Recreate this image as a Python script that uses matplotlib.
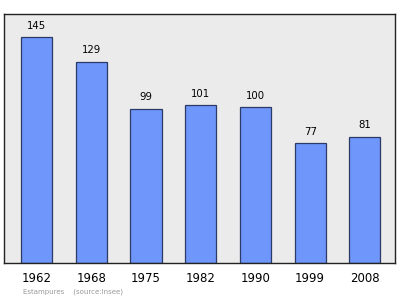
import matplotlib
matplotlib.use("Agg")
import matplotlib.pyplot as plt

years = ["1962", "1968", "1975", "1982", "1990", "1999", "2008"]
population = [145, 129, 99, 101, 100, 77, 81]

fig = plt.figure(figsize=(4.0, 2.99), dpi=100)
ax = fig.add_axes([4/400, 1-263/299, 391/400, 249/299])
ax.set_facecolor("#ebebeb")
x = list(range(len(years)))
ax.bar(x, population, width=0.57, color="#6f96fa", edgecolor="#2b3a66", linewidth=0.9, zorder=2)
for xi, v in zip(x, population):
    ax.text(xi, v + 4, str(v), ha="center", va="bottom", fontsize=7.3, color="black")
ax.set_xlim(-0.594, 6.55)
ax.set_ylim(0, 159.6)
ax.set_yticks([])
ax.set_xticks(x)
ax.set_xticklabels(years, fontsize=8.5)
ax.tick_params(axis="x", length=0, pad=6.5)
for s in ax.spines.values():
    s.set_color("#222222")
    s.set_linewidth(1.0)
fig.text(23/400, 1-292/299, "Estampures    (source:Insee)", fontsize=5, color="#999999", va="center", ha="left")
fig.savefig("out.png", dpi=100)
